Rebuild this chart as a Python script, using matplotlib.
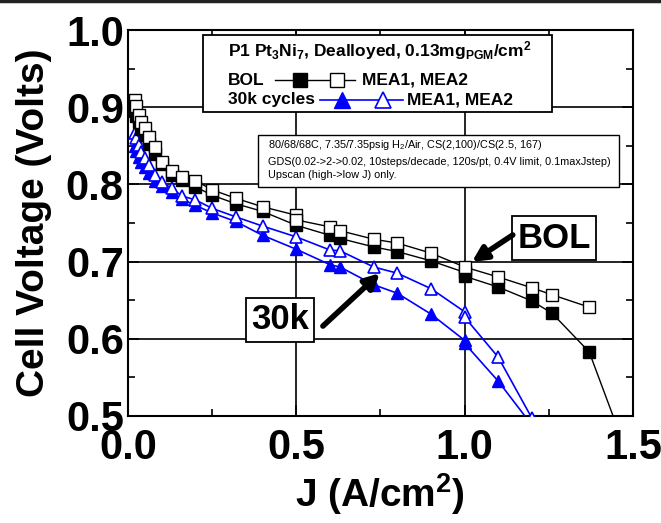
import numpy as np
import matplotlib
matplotlib.use('Agg')
import matplotlib.pyplot as plt
from matplotlib.patches import Rectangle
from matplotlib.lines import Line2D

plt.rcParams['font.family'] = ['Liberation Sans', 'DejaVu Sans']
plt.rcParams['mathtext.default'] = 'regular'

# polarization curves, J in A/cm2, cell voltage in V
j_bol1 = [0.02, 0.025, 0.032, 0.04, 0.05, 0.063, 0.079, 0.1, 0.13, 0.16, 0.2, 0.25,
          0.32, 0.4, 0.5, 0.6, 0.63, 0.73, 0.8, 0.9, 1.0, 1.0, 1.1, 1.2, 1.26, 1.37, 1.47]
v_bol1 = [0.895, 0.888, 0.881, 0.872, 0.864, 0.852, 0.840, 0.826, 0.812, 0.806, 0.797, 0.786,
          0.775, 0.765, 0.747, 0.734, 0.730, 0.719, 0.713, 0.701, 0.686, 0.681, 0.667, 0.649, 0.633, 0.583, 0.466]

j_bol2 = [0.02, 0.025, 0.032, 0.04, 0.05, 0.063, 0.079, 0.1, 0.13, 0.16, 0.2, 0.25,
          0.32, 0.4, 0.5, 0.5, 0.6, 0.63, 0.73, 0.8, 0.9, 1.0, 1.1, 1.2, 1.26, 1.37]
v_bol2 = [0.909, 0.901, 0.890, 0.881, 0.873, 0.861, 0.848, 0.829, 0.818, 0.809, 0.805, 0.793,
          0.782, 0.771, 0.760, 0.754, 0.745, 0.740, 0.729, 0.724, 0.711, 0.693, 0.680, 0.666, 0.657, 0.641]

j_30k1 = [0.02, 0.025, 0.032, 0.04, 0.05, 0.063, 0.079, 0.1, 0.13, 0.16, 0.2, 0.25,
          0.32, 0.4, 0.5, 0.6, 0.63, 0.73, 0.8, 0.9, 1.0, 1.0, 1.1, 1.2]
v_30k1 = [0.850, 0.843, 0.836, 0.829, 0.822, 0.815, 0.805, 0.798, 0.790, 0.781, 0.773, 0.763,
          0.752, 0.734, 0.716, 0.696, 0.693, 0.670, 0.659, 0.632, 0.598, 0.594, 0.545, 0.488]

j_30k2 = [0.02, 0.025, 0.032, 0.04, 0.05, 0.063, 0.079, 0.1, 0.13, 0.16, 0.2, 0.25,
          0.32, 0.4, 0.5, 0.6, 0.63, 0.73, 0.8, 0.9, 1.0, 1.0, 1.1, 1.2]
v_30k2 = [0.867, 0.860, 0.851, 0.842, 0.834, 0.825, 0.812, 0.803, 0.795, 0.785, 0.780, 0.769,
          0.758, 0.746, 0.732, 0.715, 0.714, 0.693, 0.685, 0.665, 0.635, 0.628, 0.576, 0.497]

fig = plt.figure(figsize=(6.61, 5.23), dpi=100)
ax = fig.add_axes([0.1936, 0.2046, 0.764, 0.738])

ms = 8.5
ax.plot(j_30k1, v_30k1, '-^', color='blue', lw=1.2, ms=ms, mfc='blue', mec='blue', zorder=4)
ax.plot(j_30k2, v_30k2, '-^', color='blue', lw=1.2, ms=ms, mfc='white', mec='blue', mew=1.2, zorder=5)
ax.plot(j_bol1, v_bol1, '-s', color='black', lw=1.0, ms=ms, mfc='black', mec='black', zorder=6)
ax.plot(j_bol2, v_bol2, '-s', color='black', lw=1.0, ms=ms, mfc='white', mec='black', mew=1.0, zorder=7)

ax.set_xlim(0, 1.5)
ax.set_ylim(0.5, 1.0)
ax.set_xticks([0.0, 0.5, 1.0, 1.5])
ax.set_yticks([0.5, 0.6, 0.7, 0.8, 0.9, 1.0])
ax.set_xticks([0.25, 0.75, 1.25], minor=True)
ax.set_yticks([0.55, 0.65, 0.75, 0.85, 0.95], minor=True)
ax.grid(True, which='major', color='black', lw=1.2)
ax.tick_params(which='both', direction='in', top=True, right=True, width=1.2)
ax.tick_params(which='major', length=8, labelsize=30)
ax.tick_params(axis='y', which='major', pad=3)
ax.tick_params(axis='x', which='major', pad=9)
ax.tick_params(which='minor', length=5)
for lab in ax.get_xticklabels() + ax.get_yticklabels():
    lab.set_fontweight('bold')
for s in ax.spines.values():
    s.set_linewidth(1.5)

ax.set_xlabel('J (A/cm$^2$)', fontsize=28, fontweight='bold', labelpad=2)
ax.set_ylabel('Cell Voltage (Volts)', fontsize=28, fontweight='bold', labelpad=10)

T = ax.transAxes
# legend block
fs = 12.5
ax.add_patch(Rectangle((0.148, 0.788), 0.691, 0.199, transform=T, fc='white', ec='black', lw=1.3, zorder=10))
ax.text(0.198, 0.948, 'P1 Pt$_3$Ni$_7$, Dealloyed, 0.13mg$_{PGM}$/cm$^2$', transform=T,
        fontsize=fs, fontweight='bold', va='center', zorder=11)
ax.text(0.198, 0.870, 'BOL', transform=T, fontsize=fs, fontweight='bold', va='center', zorder=11)
ax.add_line(Line2D([0.291, 0.450], [0.870, 0.870], transform=T, color='black', lw=1.0, zorder=11))
ax.add_line(Line2D([0.340], [0.870], transform=T, marker='s', ms=10, mfc='black', mec='black', zorder=12))
ax.add_line(Line2D([0.414], [0.870], transform=T, marker='s', ms=10, mfc='white', mec='black', zorder=12))
ax.text(0.463, 0.870, 'MEA1, MEA2', transform=T, fontsize=fs, fontweight='bold', va='center', zorder=11)
ax.text(0.198, 0.819, '30k cycles', transform=T, fontsize=fs, fontweight='bold', va='center', zorder=11)
ax.add_line(Line2D([0.380, 0.545], [0.819, 0.819], transform=T, color='blue', lw=1.2, zorder=11))
ax.add_line(Line2D([0.424], [0.819], transform=T, marker='^', ms=11, mfc='blue', mec='blue', zorder=12))
ax.add_line(Line2D([0.505], [0.819], transform=T, marker='^', ms=11, mfc='white', mec='blue', mew=1.2, zorder=12))
ax.text(0.552, 0.819, 'MEA1, MEA2', transform=T, fontsize=fs, fontweight='bold', va='center', zorder=11)

# test conditions
ax.add_patch(Rectangle((0.257, 0.593), 0.715, 0.135, transform=T, fc='white', ec='black', lw=1.0, zorder=10))
cond = ['80/68/68C, 7.35/7.35psig H$_2$/Air, CS(2,100)/CS(2.5, 167)',
        'GDS(0.02->2->0.02, 10steps/decade, 120s/pt, 0.4V limit, 0.1maxJstep)',
        'Upscan (high->low J) only.']
for yy, line in zip([0.702, 0.658, 0.624], cond):
    ax.text(0.277, yy, line, transform=T, fontsize=7.8, va='center', zorder=11)

# callouts
box = dict(boxstyle='square,pad=0.15', fc='white', ec='black', lw=1.3)
ax.text(0.844, 0.461, 'BOL', transform=T, fontsize=25, fontweight='bold', ha='center', va='center',
        bbox=box, zorder=11)
ax.text(0.301, 0.249, '30k', transform=T, fontsize=25, fontweight='bold', ha='center', va='center',
        bbox=box, zorder=11)
arrow = dict(arrowstyle='-|>', lw=4, mutation_scale=22, color='black', shrinkA=0, shrinkB=0)
ax.annotate('', xy=(0.681, 0.399), xytext=(0.762, 0.469), xycoords=T, textcoords=T, arrowprops=arrow, zorder=12)
ax.annotate('', xy=(0.499, 0.370), xytext=(0.386, 0.233), xycoords=T, textcoords=T, arrowprops=arrow, zorder=12)

fig.add_artist(Line2D([0, 1], [0.998, 0.998], transform=fig.transFigure, color='#222222', lw=2.5))

fig.savefig('out.png', dpi=100)
